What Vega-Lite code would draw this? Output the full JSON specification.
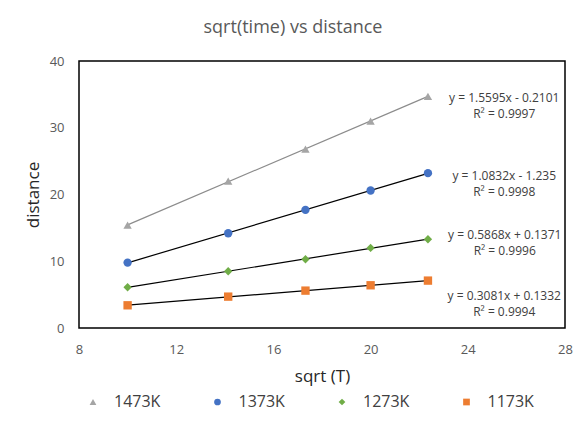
{
  "$schema": "https://vega.github.io/schema/vega-lite/v6.json",
  "width": 486,
  "height": 267,
  "autosize": {"type": "none"},
  "padding": {"left": 79, "top": 61, "right": 15, "bottom": 99},
  "background": "white",
  "title": {
    "text": "sqrt(time)  vs distance",
    "font": "Open Sans",
    "fontSize": 18,
    "fontWeight": "normal",
    "color": "#595959",
    "anchor": "middle",
    "dx": -29,
    "offset": 18
  },
  "config": {
    "view": {"stroke": "black", "strokeWidth": 1.5},
    "font": "Open Sans",
    "axis": {
      "grid": false,
      "ticks": false,
      "domain": false,
      "labelFlush": false,
      "labelColor": "#595959",
      "labelFontSize": 13,
      "labelFont": "Open Sans",
      "titleFont": "Open Sans",
      "titleFontSize": 17,
      "titleFontWeight": "normal",
      "titleColor": "#262626"
    }
  },
  "datasets": {
    "pts": [
      {"series": "1473K", "t": 10, "d": 15.4},
      {"series": "1473K", "t": 14.14, "d": 22.0},
      {"series": "1473K", "t": 17.32, "d": 26.8},
      {"series": "1473K", "t": 20, "d": 31.0},
      {"series": "1473K", "t": 22.36, "d": 34.7},
      {"series": "1373K", "t": 10, "d": 9.8},
      {"series": "1373K", "t": 14.14, "d": 14.2},
      {"series": "1373K", "t": 17.32, "d": 17.7},
      {"series": "1373K", "t": 20, "d": 20.6},
      {"series": "1373K", "t": 22.36, "d": 23.2},
      {"series": "1273K", "t": 10, "d": 6.1},
      {"series": "1273K", "t": 14.14, "d": 8.5},
      {"series": "1273K", "t": 17.32, "d": 10.3},
      {"series": "1273K", "t": 20, "d": 12.0},
      {"series": "1273K", "t": 22.36, "d": 13.3},
      {"series": "1173K", "t": 10, "d": 3.4},
      {"series": "1173K", "t": 14.14, "d": 4.7},
      {"series": "1173K", "t": 17.32, "d": 5.6},
      {"series": "1173K", "t": 20, "d": 6.4},
      {"series": "1173K", "t": 22.36, "d": 7.1}
    ],
    "labels": [
      {"series": "1473K", "lx": 25.5, "ly": 34.46, "txt": ["y = 1.5595x - 0.2101", "R² = 0.9997"]},
      {"series": "1373K", "lx": 25.5, "ly": 22.77, "txt": ["y = 1.0832x - 1.235", "R² = 0.9998"]},
      {"series": "1273K", "lx": 25.52, "ly": 13.93, "txt": ["y = 0.5868x + 0.1371", "R² = 0.9996"]},
      {"series": "1173K", "lx": 25.5, "ly": 4.79, "txt": ["y = 0.3081x + 0.1332", "R² = 0.9994"]}
    ]
  },
  "layer": [
    {
      "data": {"name": "pts"},
      "transform": [{"regression": "d", "on": "t", "groupby": ["series"]}],
      "mark": {"type": "line", "strokeWidth": 1.2},
      "encoding": {
        "x": {"field": "t", "type": "quantitative", "scale": {"domain": [8, 28]}, "axis": {"values": [8, 12, 16, 20, 24, 28], "title": "sqrt (T)", "labelPadding": 15, "titlePadding": 12}},
        "y": {"field": "d", "type": "quantitative", "scale": {"domain": [0, 40]}, "axis": {"values": [0, 10, 20, 30, 40], "title": "distance", "labelPadding": 15, "titlePadding": 7}},
        "detail": {"field": "series"},
        "stroke": {"condition": {"test": "datum.series === '1473K'", "value": "#8c8c8c"}, "value": "black"}
      }
    },
    {
      "data": {"name": "pts"},
      "mark": {"type": "point", "filled": true, "opacity": 1, "size": 70},
      "encoding": {
        "x": {"field": "t", "type": "quantitative"},
        "y": {"field": "d", "type": "quantitative"},
        "color": {"field": "series", "type": "nominal", "scale": {"domain": ["1473K", "1373K", "1273K", "1173K"], "range": ["#A5A5A5", "#4472C4", "#70AD47", "#ED7D31"]},
          "legend": {"title": null, "orient": "none", "legendX": 6, "legendY": 333, "direction": "horizontal", "columns": 4, "columnPadding": 48.5, "padding": 0, "labelFontSize": 16, "labelColor": "#404040", "labelFont": "Open Sans", "symbolSize": 45, "labelOffset": 13}},
        "shape": {"field": "series", "type": "nominal", "scale": {"domain": ["1473K", "1373K", "1273K", "1173K"], "range": ["triangle-up", "circle", "diamond", "square"]},
          "legend": {"title": null, "orient": "none", "legendX": 6, "legendY": 333, "direction": "horizontal", "columns": 4, "columnPadding": 48.5, "padding": 0, "labelFontSize": 16, "labelColor": "#404040", "labelFont": "Open Sans", "symbolSize": 45, "labelOffset": 13}}
      }
    },
    {
      "data": {"name": "labels"},
      "mark": {"type": "text", "align": "center", "baseline": "middle", "fontSize": 12, "color": "#404040", "lineHeight": 16},
      "encoding": {
        "x": {"field": "lx", "type": "quantitative"},
        "y": {"field": "ly", "type": "quantitative"},
        "text": {"field": "txt"}
      }
    }
  ]
}
